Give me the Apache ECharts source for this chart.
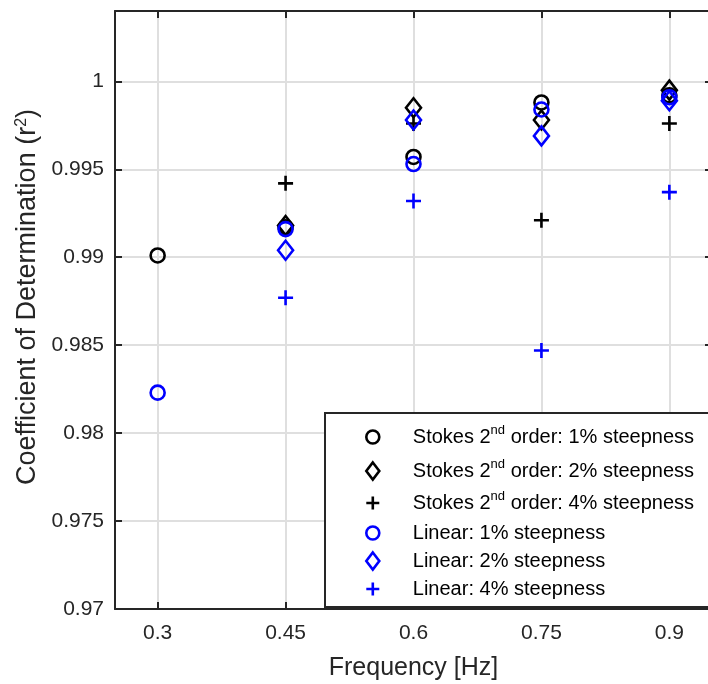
<!DOCTYPE html>
<html><head><meta charset="utf-8">
<script src="https://cdn.jsdelivr.net/npm/echarts@6/dist/echarts.min.js"></script>
<style>html,body{margin:0;padding:0;background:#fff}#c{width:708px;height:684px}</style>
</head><body><div id="c"></div>
<script>
const frequencies = [0.3, 0.45, 0.6, 0.75, 0.9];
const xTicks = [0.3, 0.45, 0.6, 0.75, 0.9];
const yTicks = [0.97, 0.975, 0.98, 0.985, 0.99, 0.995, 1];
const stokes1 = [0.9901, 0.9917, 0.9957, 0.9988, 0.9992];
const stokes2 = [null, 0.9918, 0.9985, 0.9978, 0.9995];
const stokes4 = [null, 0.9942, 0.9976, 0.9921, 0.9976];
const linear1 = [0.9823, 0.9916, 0.9953, 0.9984, 0.9991];
const linear2 = [null, 0.9904, 0.9978, 0.9969, 0.9989];
const linear4 = [null, 0.9877, 0.9932, 0.9847, 0.9937];
const seriesNames = [
  'Stokes 2nd order: 1% steepness',
  'Stokes 2nd order: 2% steepness',
  'Stokes 2nd order: 4% steepness',
  'Linear: 1% steepness',
  'Linear: 2% steepness',
  'Linear: 4% steepness'
];
const seriesValues = [stokes1, stokes2, stokes4, linear1, linear2, linear4];
const seriesColors = ['#000000', '#000000', '#000000', '#0000ff', '#0000ff', '#0000ff'];
const markerKinds = ['circle', 'diamond', 'plus', 'circle', 'diamond', 'plus'];

const FONT = '"Liberation Sans", Arial, Helvetica, sans-serif';
const PLUS = 'path://M1,0L1,2M0,1L2,1';
const DIAMOND_LEG = 'path://M13,0L26,17L13,34L0,17Z';
const symbolOf = {circle: 'circle', diamond: 'diamond', plus: PLUS};
const sizeOf = {circle: 14, diamond: [15, 19], plus: 15};
const legIcon = {circle: 'circle', diamond: DIAMOND_LEG, plus: PLUS};
const legH = {circle: 13, diamond: 17, plus: 13};
const legendRowY = [437, 471, 503, 533, 561, 589];
const LH = 26;

const series = seriesNames.map((name, k) => ({
  type: 'scatter',
  name: name,
  symbol: symbolOf[markerKinds[k]],
  symbolSize: sizeOf[markerKinds[k]],
  data: frequencies.map((f, i) => [f, seriesValues[k][i]]).filter(d => d[1] != null),
  itemStyle: {color: 'transparent', borderColor: seriesColors[k], borderWidth: 2.6, opacity: 1},
  emphasis: {disabled: true},
  z: 2
}));

const legends = seriesNames.map((name, k) => ({
  data: [{name: name, icon: legIcon[markerKinds[k]]}],
  left: 365,
  top: legendRowY[k] - LH / 2,
  orient: 'vertical',
  padding: 0,
  itemWidth: 70,
  itemHeight: legH[markerKinds[k]],
  selectedMode: false,
  itemStyle: {borderWidth: 2.6, opacity: 1},
  formatter: n => n.replace('2nd', '2{sup|nd}'),
  textStyle: {
    fontFamily: FONT, fontSize: 20, color: '#000', lineHeight: LH,
    rich: {sup: {fontFamily: FONT, fontSize: 13, lineHeight: 9, verticalAlign: 'top', color: '#000'}}
  },
  z: 5
}));

const axisLineStyle = {color: '#262626', width: 2};
const chart = echarts.init(document.getElementById('c'), null, {renderer: 'canvas'});
chart.setOption({
  animation: false,
  backgroundColor: '#fff',
  grid: {left: 115, right: -4, top: 11, bottom: 75, containLabel: false, outerBoundsMode: 'none'},
  xAxis: [{
    type: 'value', min: 0.25, max: 0.95, position: 'bottom',
    name: 'Frequency [Hz]', nameLocation: 'middle', nameGap: 47,
    nameTextStyle: {fontFamily: FONT, fontSize: 25, color: '#262626'},
    axisLine: {show: true, onZero: false, lineStyle: axisLineStyle},
    axisTick: {show: true, inside: true, length: 7, customValues: xTicks, lineStyle: axisLineStyle},
    axisLabel: {customValues: xTicks, margin: 14, fontFamily: FONT, fontSize: 21, color: '#262626',
      formatter: v => String(+v.toFixed(2))},
    splitLine: {show: true, lineStyle: {color: '#dfdfdf', width: 2}}
  }, {
    type: 'value', min: 0.25, max: 0.95, position: 'top',
    axisLine: {show: true, onZero: false, lineStyle: axisLineStyle},
    axisTick: {show: true, inside: true, length: 7, customValues: xTicks, lineStyle: axisLineStyle},
    axisLabel: {show: false},
    splitLine: {show: false}
  }],
  yAxis: [{
    type: 'value', min: 0.97, max: 1.004, position: 'left',
    name: 'Coefficient of Determination (r{sup|2})', nameLocation: 'middle', nameGap: 70,
    nameTextStyle: {fontFamily: FONT, fontSize: 27, color: '#262626', padding: [0, 0, 0, 26],
      rich: {sup: {fontFamily: FONT, fontSize: 16, lineHeight: 14, verticalAlign: 'top', color: '#262626'}}},
    axisLine: {show: true, onZero: false, lineStyle: axisLineStyle},
    axisTick: {show: true, inside: true, length: 7, customValues: yTicks, lineStyle: axisLineStyle},
    axisLabel: {customValues: yTicks, margin: 11, fontFamily: FONT, fontSize: 21, color: '#262626',
      formatter: v => String(+v.toFixed(3))},
    splitLine: {show: true, lineStyle: {color: '#dfdfdf', width: 2}}
  }, {
    type: 'value', min: 0.97, max: 1.004, position: 'right',
    axisLine: {show: true, onZero: false, lineStyle: axisLineStyle},
    axisTick: {show: true, inside: true, length: 7, customValues: yTicks, lineStyle: axisLineStyle},
    axisLabel: {show: false},
    splitLine: {show: false}
  }],
  legend: legends,
  graphic: [{
    type: 'rect', z: 3, silent: true,
    shape: {x: 325, y: 413, width: 400, height: 194},
    style: {fill: '#fff', stroke: '#262626', lineWidth: 2}
  }],
  series: series
});
</script></body></html>
